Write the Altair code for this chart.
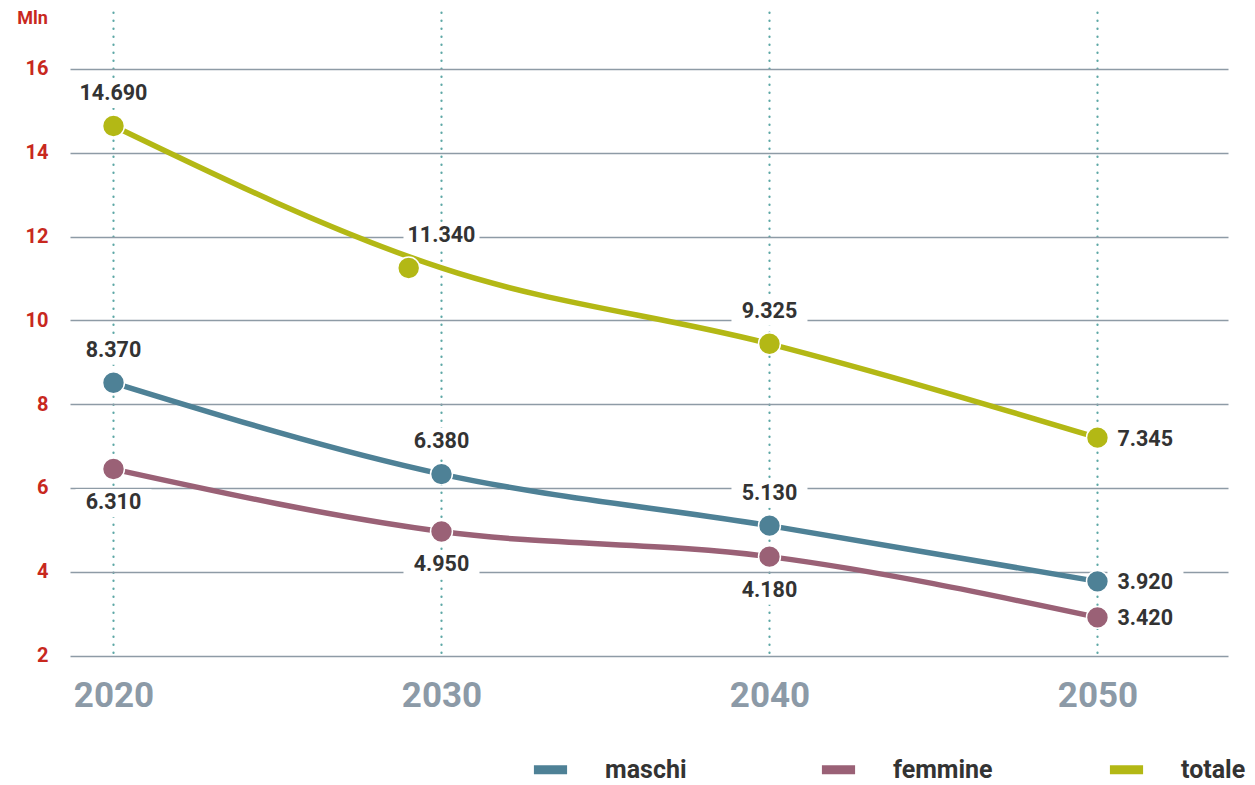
import altair as alt
import pandas as pd

# ---- data ----
anni = [2020, 2030, 2040, 2050]
serie = ["maschi", "femmine", "totale"]

maschi = [8.51, 6.33, 5.10, 3.77]
femmine = [6.45, 4.96, 4.36, 2.91]
totale = [14.64, 11.25, 9.44, 7.20]

# year at which each point marker is drawn (the 2030 "totale" dot sits slightly left in the source)
anni_punto_maschi = [2020, 2030, 2040, 2050]
anni_punto_femmine = [2020, 2030, 2040, 2050]
anni_punto_totale = [2020, 2029, 2040, 2050]

etichette_maschi = ["8.370", "6.380", "5.130", "3.920"]
etichette_femmine = ["6.310", "4.950", "4.180", "3.420"]
etichette_totale = ["14.690", "11.340", "9.325", "7.345"]

posizione_maschi = ["sopra", "sopra", "sopra", "destra"]
posizione_femmine = ["sotto", "sotto", "sotto", "destra"]
posizione_totale = ["sopra", "sopra", "sopra", "destra"]

y_ticks = [2, 4, 6, 8, 10, 12, 14, 16]

colori = ["#4e8196", "#9a6176", "#b3b815"]

rows = []
for nome, vals, xp, lab, pos in [
    ("maschi", maschi, anni_punto_maschi, etichette_maschi, posizione_maschi),
    ("femmine", femmine, anni_punto_femmine, etichette_femmine, posizione_femmine),
    ("totale", totale, anni_punto_totale, etichette_totale, posizione_totale),
]:
    for a, v, p, l, ps in zip(anni, vals, xp, lab, pos):
        rows.append({"serie": nome, "anno": a, "valore": v, "anno_punto": p,
                     "etichetta": l, "pos": ps})
df = pd.DataFrame(rows)

FONT = "Roboto"

xscale = alt.Scale(domain=[2018.674, 2053.98], nice=False, zero=False)
yscale = alt.Scale(domain=[2, 17.36], nice=False, zero=False)
cscale = alt.Scale(domain=serie, range=colori)

base = alt.Chart(df)

lines = base.mark_line(interpolate="monotone", strokeWidth=5.5).encode(
    x=alt.X("anno:Q", scale=xscale, axis=alt.Axis(
        values=anni, format="d", title=None, domain=False, ticks=False,
        labelFont=FONT, labelFontSize=35, labelFontWeight="bold",
        labelColor="#8c9aa7", labelPadding=40, labelBaseline="middle",
        grid=True, gridColor="#5ea8a6", gridWidth=2.2, gridDash=[0.5, 7.5],
        gridCap="round")),
    y=alt.Y("valore:Q", scale=yscale, axis=alt.Axis(
        values=y_ticks, title="Mln", titleAngle=0, titleX=-38, titleY=6,
        titleAlign="center", titleBaseline="middle", titleFont=FONT,
        titleFontSize=18, titleFontWeight="bold", titleColor="#c8281e",
        domain=False, ticks=False, labelFont=FONT, labelFontSize=20,
        labelFontWeight="bold", labelColor="#c8281e", labelPadding=22,
        grid=True, gridColor="#8e9ba6", gridWidth=1.6)),
    color=alt.Color("serie:N", scale=cscale, sort=serie, legend=alt.Legend(
        title=None, orient="none", direction="horizontal", legendX=459,
        legendY=736, symbolType="stroke", symbolSize=1100, symbolStrokeWidth=9,
        labelFont=FONT, labelFontSize=25, labelFontWeight="bold",
        labelColor="#333333", labelOffset=33, columnPadding=98,
        gridAlign="all", padding=0, labelBaseline="middle")),
    detail="serie:N",
)

box_path = "M-1,-0.37L1,-0.37L1,0.37L-1,0.37Z"

def box_layer(pos, xo, yo):
    return base.transform_filter(alt.datum.pos == pos).mark_point(
        shape=box_path, size=5776, filled=True, color="white", opacity=1,
        strokeWidth=0, xOffset=xo, yOffset=yo).encode(
        x=alt.X("anno:Q", scale=xscale), y=alt.Y("valore:Q", scale=yscale))

def text_layer(pos, dx, dy, align):
    return base.transform_filter(alt.datum.pos == pos).mark_text(
        font=FONT, fontSize=21.5, fontWeight="bold", color="#333333",
        align=align, baseline="middle", dx=dx, dy=dy).encode(
        x=alt.X("anno:Q", scale=xscale), y=alt.Y("valore:Q", scale=yscale),
        text="etichetta:N")

boxes = alt.layer(box_layer("sopra", 0, -32), box_layer("sotto", 0, 34),
                  box_layer("destra", 48, 2))

points = base.mark_point(filled=True, size=480, stroke="white", strokeWidth=1.5,
                         opacity=1).encode(
    x=alt.X("anno_punto:Q", scale=xscale),
    y=alt.Y("valore:Q", scale=yscale),
    color=alt.Color("serie:N", scale=cscale, legend=None),
)

texts = alt.layer(text_layer("sopra", 0, -32, "center"),
                  text_layer("sotto", 0, 34, "center"),
                  text_layer("destra", 20, 2, "left"))

chart = alt.layer(lines, boxes, points, texts).properties(
    width=1158, height=643.5,
    autosize=alt.AutoSizeParams(type="none"),
    padding={"left": 70, "top": 12, "right": 27, "bottom": 129.5},
).configure_view(stroke=None)

chart.save("out.html", embed_options={"renderer": "svg", "actions": False})
